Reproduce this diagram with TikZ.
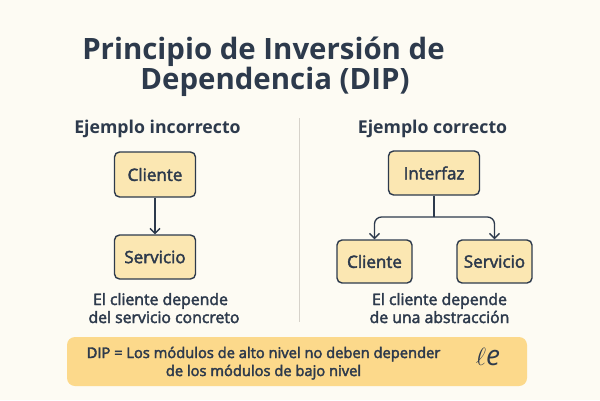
\documentclass[tikz,border=0pt]{standalone}
\usepackage{fontspec}
\setmainfont{Open Sans}
\usetikzlibrary{arrows,arrows.meta,positioning}
\definecolor{tinta}{HTML}{2D3A4C}
\definecolor{fondo}{HTML}{FDFBF3}
\definecolor{crema}{HTML}{FBE7B2}
\definecolor{banda}{HTML}{FCD98B}
\definecolor{raya}{HTML}{D6D2CA}
\newcommand{\medio}[1]{\special{pdf:literal 2 Tr 0.4 w}#1\special{pdf:literal 0 Tr}}
\tikzstyle{caja}=[rectangle, rounded corners=5pt, draw=tinta, line width=1.4pt, fill=crema, text=tinta, font=\fontsize{17}{20}\selectfont]
\tikzstyle{texto}=[anchor=base, text=tinta, inner sep=0pt]
\tikzstyle{flecha}=[-{Straight Barb[length=5pt,width=10pt]}, draw=tinta, line width=1.3pt]
\newcommand{\caja}{\node[caja]}
\newcommand{\texto}{\node[texto]}

\begin{document}
\begin{tikzpicture}[x=1pt,y=-1pt]
                    \fill[fondo] (0,0) rectangle (600,400);
                    \useasboundingbox (0,0) rectangle (600,400);
                    % titulo
                    \texto (tit1) at (263.5,59) [font=\fontsize{29.4}{34}\selectfont\bfseries]{Principio de Inversión de};
                    \texto (tit2) at (275,89) [font=\fontsize{29.4}{34}\selectfont\bfseries]{Dependencia (DIP)};
                    \draw[raya, line width=1pt] (299,118) -- (299,322);
                    % ejemplo incorrecto
                    \texto (mal) at (157.5,133) [font=\fontsize{17.7}{22}\selectfont\bfseries]{Ejemplo incorrecto};
                    \caja (cli1) at (155,174.5) [minimum width=81pt, minimum height=45pt]{\medio{Cliente}};
                    \caja (ser1) at (155,257) [minimum width=81pt, minimum height=44pt]{\medio{Servicio}};
                    \texto (nota1a) at (160.5,305) [font=\fontsize{15.8}{18}\selectfont]{\medio{El cliente depende}};
                    \texto (nota1b) at (164,323) [font=\fontsize{15.8}{18}\selectfont]{\medio{del servicio concreto}};
                    % ejemplo correcto
                    \texto (bien) at (432.5,133) [font=\fontsize{17.7}{22}\selectfont\bfseries]{Ejemplo correcto};
                    \caja (intf) at (434,173) [minimum width=91pt, minimum height=44pt]{\medio{Interfaz}};
                    \caja (cli2) at (374.5,261.5) [minimum width=75pt, minimum height=43pt]{\medio{Cliente}};
                    \caja (ser2) at (494.5,261.5) [minimum width=75pt, minimum height=43pt]{\medio{Servicio}};
                    \coordinate (rama) at (434,217);
                    \texto (nota2a) at (439.5,305) [font=\fontsize{15.8}{18}\selectfont]{\medio{El cliente depende}};
                    \texto (nota2b) at (439.5,323) [font=\fontsize{15.8}{18}\selectfont]{\medio{de una abstracción}};
                    \path 
                        (cli1) edge[flecha] (ser1)
                    ;
                    \draw[tinta, line width=1.3pt] (intf) -- (rama);
                    \draw[flecha, rounded corners=7pt] (rama) -| (cli2);
                    \draw[flecha, rounded corners=7pt] (rama) -| (ser2);
                    % resumen
                    \fill[banda, rounded corners=8pt] (67,337) rectangle (527,386);
                    \texto (dip1) at (263.5,358) [font=\fontsize{14.7}{18}\selectfont]{\medio{DIP = Los módulos de alto nivel no deben depender}};
                    \texto (dip2) at (263.5,376) [font=\fontsize{14.7}{18}\selectfont]{\medio{de los módulos de bajo nivel}};
                    \texto (firma) at (488,365) [font=\fontsize{28}{30}\selectfont]{$\ell\mathit{e}$};
                \end{tikzpicture}
\end{document}
